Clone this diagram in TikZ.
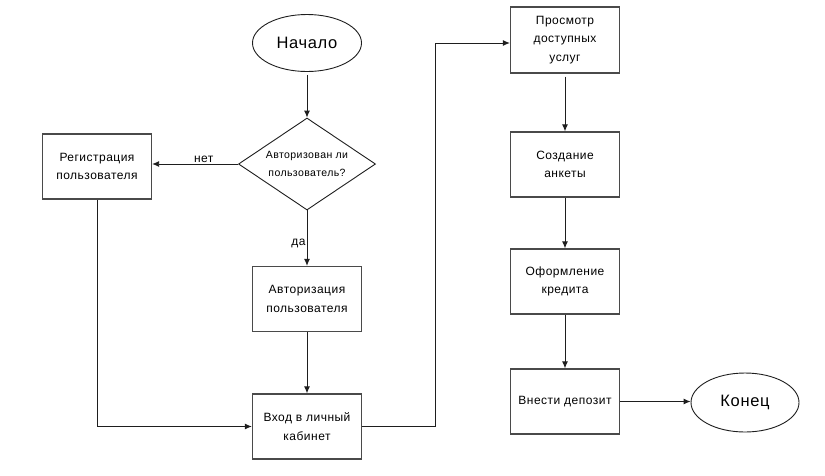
\documentclass[tikz,border=0pt]{standalone}
\usepackage{fontspec}
\setmainfont[LetterSpace=4]{Liberation Sans}
\usetikzlibrary{shapes.geometric,arrows.meta}
\definecolor{edge}{HTML}{1E1E1E}
\definecolor{frame}{HTML}{4A4A4A}
\begin{document}
\begin{tikzpicture}[x=1pt,y=-1pt,
  stepbox/.style={draw=frame,line width=1.3pt,minimum width=109pt,minimum height=65pt,
    inner sep=0pt,align=center,font=\fontsize{12}{18.5}\selectfont},
  term/.style={ellipse,draw=edge,line width=0.9pt,minimum width=109pt,minimum height=57pt,
    inner sep=0pt,font=\fontsize{16.5}{18}\selectfont},
  dec/.style={diamond,draw=edge,line width=0.9pt,minimum width=137pt,minimum height=92pt,
    aspect=1.49,inner sep=0pt,align=center,font=\fontsize{10.5}{18}\selectfont},
  arr/.style={draw=edge,line width=0.9pt,-{Latex[length=7pt,width=6pt]}},
  lbl/.style={font=\fontsize{12}{14}\selectfont,inner sep=1pt}
]
\useasboundingbox (0,0) rectangle (825,475);
\node[term] (start) at (307,43) {Начало};
\node[dec] (dec) at (307,164) {Авторизован ли\\пользователь?};
\node[stepbox] (reg) at (97,166.5) {Регистрация\\пользователя};
\node[stepbox] (auth) at (307,299) {Авторизация\\пользователя};
\node[stepbox] (enter) at (307,426.5) {Вход в личный\\кабинет};
\node[stepbox,minimum height=66pt] (view) at (565,40) {Просмотр\\доступных\\услуг};
\node[stepbox] (create) at (565,164.5) {Создание\\анкеты};
\node[stepbox] (form) at (565,281.5) {Оформление\\кредита};
\node[stepbox] (dep) at (565,401.5) {Внести депозит};
\node[term,minimum width=108pt,minimum height=59pt] (end) at (745,402.5) {Конец};
\coordinate (bend) at (435,43);

\draw[arr] ([yshift=-3pt]start.south) -- (dec.north);
\draw[arr] (dec.west) -- node[lbl,above,pos=0.4] {нет} (dec.west -| reg.east);
\draw[arr] (dec.south) -- node[lbl,left,pos=0.6] {да} (auth.north);
\draw[arr] (auth.south) -- (enter.north);
\draw[arr] (reg.south) |- (enter.west);
\draw[arr] (enter.east) -| (bend) -- (bend -| view.west);
\draw[arr] ([yshift=-3pt]view.south) -- (create.north);
\draw[arr] (create.south) -- (form.north);
\draw[arr] (form.south) -- (dep.north);
\draw[arr] (dep.east) -- (dep.east -| end.west);
\end{tikzpicture}
\end{document}
